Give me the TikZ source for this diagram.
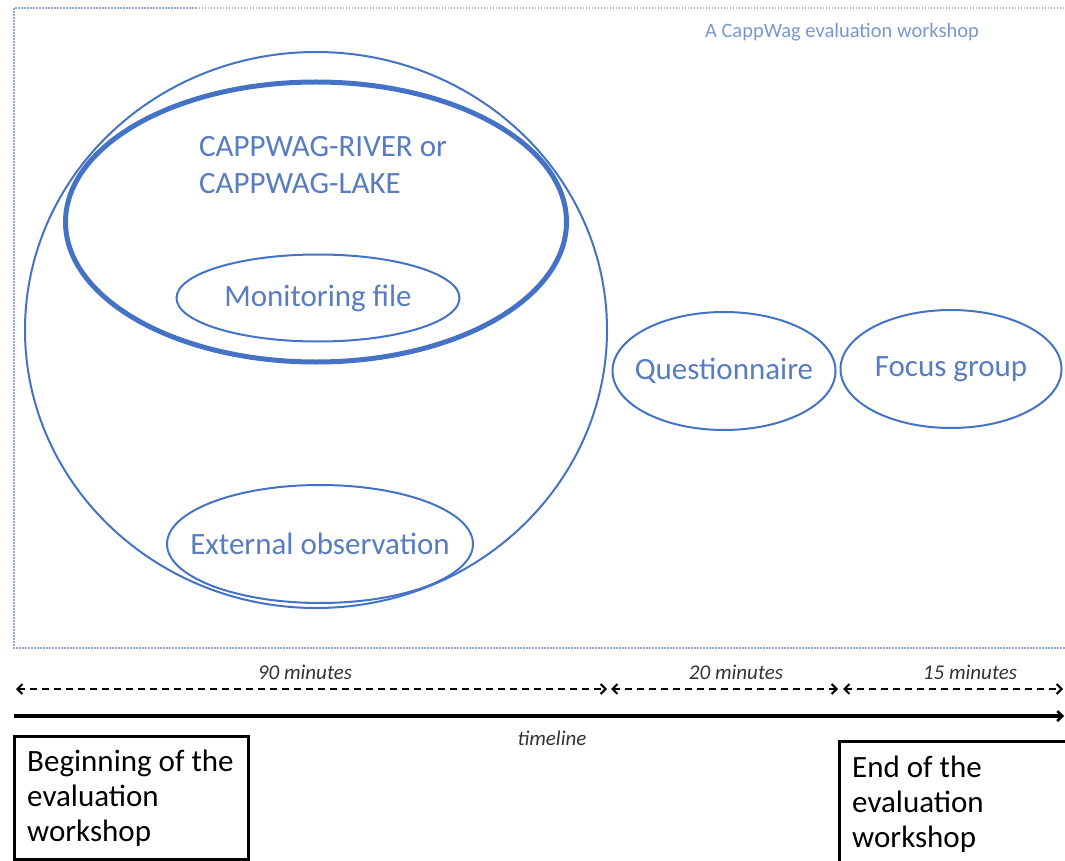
\documentclass[tikz,border=0pt]{standalone}
\usepackage{fontspec}
\setmainfont{Carlito}
\usetikzlibrary{shapes.geometric,arrows.meta}
\definecolor{oblue}{RGB}{68,114,196}
\definecolor{tblue}{RGB}{88,124,194}
\definecolor{lblue}{RGB}{120,150,210}
\definecolor{fblue}{RGB}{150,170,215}
\tikzset{
  oval/.style={draw=oblue, line width=2pt, ellipse, inner sep=0pt},
  bluetext/.style={text=tblue, font=\fontsize{31}{37}\selectfont, inner sep=0pt},
  mins/.style={font=\fontsize{21}{24}\selectfont\itshape, text=black!80, inner sep=0pt},
  span/.style={line width=2pt, dash pattern=on 7pt off 5pt, {Straight Barb[length=5pt,width=10pt,line width=2pt]}-{Straight Barb[length=5pt,width=10pt,line width=2pt]}},
  endbox/.style={draw=black, line width=2.5pt, inner sep=0pt},
  boxtext/.style={font=\fontsize{31}{35}\selectfont, align=left, anchor=north west, inner sep=0pt},
}
\begin{document}
\begin{tikzpicture}[x=1pt,y=-1pt]
\useasboundingbox (0,0) rectangle (1065,861);
\clip (0,0) rectangle (1065,861);
% dotted frame
\draw[fblue, line width=1.5pt, dash pattern=on 1.5pt off 1.5pt] (1070,8) -- (14,8) -- (14,648) -- (1070,648);
\node[text=lblue, font=\fontsize{20.5}{24}\selectfont, inner sep=0pt] (title) at (842,32) {A CappWag evaluation workshop};
% ellipses
\node[oval, minimum width=582pt, minimum height=556pt] (outer) at (316,330) {};
\node[oval, line width=5pt, minimum width=501pt, minimum height=280pt] (cappwag) at (316,222) {};
\node[bluetext, align=left] (cappwagtext) at (323,165) {CAPPWAG-RIVER or\\CAPPWAG-LAKE};
\node[oval, minimum width=283pt, minimum height=87pt, label={[bluetext]center:Monitoring file}] (monitor) at (318,298) {};
\node[oval, minimum width=306pt, minimum height=118pt, label={[bluetext]center:External observation}] (extobs) at (320,544) {};
\node[oval, minimum width=223pt, minimum height=118pt, label={[bluetext]center:Questionnaire}] (quest) at (724,371) {};
\node[oval, minimum width=221pt, minimum height=118pt, label={[bluetext]center:Focus group}] (focus) at (951,369) {};
% durations
\coordinate (t0) at (16,689);
\coordinate (t1) at (607,689);
\coordinate (t2) at (611,689);
\coordinate (t3) at (838,689);
\coordinate (t4) at (843,689);
\coordinate (t5) at (1063,689);
\draw[span] (t0) -- (t1);
\draw[span] (t2) -- (t3);
\draw[span] (t4) -- (t5);
\node[mins] (m90) at (305,672) {90 minutes};
\node[mins] (m20) at (736,672) {20 minutes};
\node[mins] (m15) at (970,672) {15 minutes};
% timeline
\coordinate (l0) at (14,716);
\coordinate (l1) at (1064,716);
\draw[line width=3.5pt, -{Straight Barb[length=5pt,width=10pt,line width=2.5pt]}] (l0) -- (l1);
\node[mins] (tl) at (552,738) {timeline};
% boxes
\node[endbox, anchor=north west, minimum width=234pt, minimum height=123pt] (begin) at (13,735) {};
\node[boxtext] (begintext) at (27,750) {Beginning of the\\evaluation\\workshop};
\node[endbox, anchor=north west, minimum width=240pt, minimum height=140pt] (end) at (838,740) {};
\node[boxtext] (endtext) at (852,756) {End of the\\evaluation\\workshop};
\end{tikzpicture}
\end{document}
